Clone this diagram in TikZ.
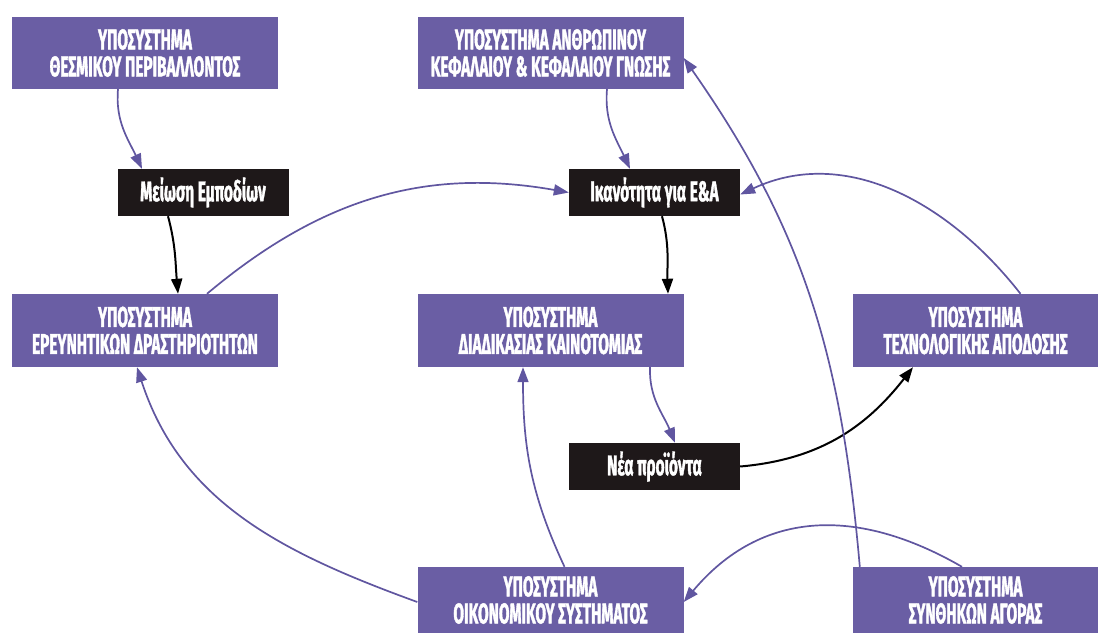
\documentclass[tikz,border=0pt]{standalone}
\usepackage{fontspec}
\setmainfont{Fira Sans}[FakeStretch=0.54, BoldFeatures={FakeBold=1.2}]
\usetikzlibrary{arrows.meta,positioning}

\definecolor{sysviolet}{RGB}{106,94,164}
\definecolor{linkviolet}{RGB}{96,86,160}
\definecolor{factorblack}{RGB}{30,24,25}
\newcommand{\boxfont}{\fontsize{28.5}{27}\selectfont\bfseries}

\begin{document}
\begin{tikzpicture}[x=1pt,y=1pt,
  subsys/.style={fill=sysviolet, text=white, align=center, font=\boxfont,
    minimum width=266pt, minimum height=72pt, inner sep=0pt},
  factor/.style={fill=factorblack, text=white, font=\boxfont,
    minimum width=171pt, minimum height=47pt, inner sep=0pt},
  flow/.style={draw=linkviolet, line width=1.7pt, -{Triangle[length=15pt,width=11pt]}},
  push/.style={flow, draw=black, line width=2pt}]

\useasboundingbox (0,0) rectangle (1107,633);

%% Top row: the two subsystems
\node[subsys] (thesm) at (145,580) {ΥΠΟΣΥΣΤΗΜΑ\\ΘΕΣΜΙΚΟΥ ΠΕΡΙΒΑΛΛΟΝΤΟΣ};
\node[subsys] (anthr) at (550.5,580) {ΥΠΟΣΥΣΤΗΜΑ ΑΝΘΡΩΠΙΝΟΥ\\ΚΕΦΑΛΑΙΟΥ \& ΚΕΦΑΛΑΙΟΥ ΓΝΩΣΗΣ};

%% Black factors under the top row
\node[factor] (meiosi) at (203,440.5) {Μείωση Εμποδίων};
\node[factor] (ikan) at (654.5,440.5) {Ικανότητα για Ε\&Α};

%% Middle row
\node[subsys, minimum height=73pt] (erevn) at (145,302.5) {ΥΠΟΣΥΣΤΗΜΑ\\ΕΡΕΥΝΗΤΙΚΩΝ ΔΡΑΣΤΗΡΙΟΤΗΤΩΝ};
\node[subsys, minimum height=73pt] (diad) at (550.5,302.5) {ΥΠΟΣΥΣΤΗΜΑ\\ΔΙΑΔΙΚΑΣΙΑΣ ΚΑΙΝΟΤΟΜΙΑΣ};
\node[subsys, minimum height=73pt, minimum width=245pt] (techn) at (975.5,302.5) {ΥΠΟΣΥΣΤΗΜΑ\\ΤΕΧΝΟΛΟΓΙΚΗΣ ΑΠΟΔΟΣΗΣ};

%% New products
\node[factor] (nea) at (654.5,166.5) {Νέα προϊόντα};

%% Bottom row, cut by the lower edge
\node[subsys, minimum height=66pt] (oikon) at (550.5,33) {ΥΠΟΣΥΣΤΗΜΑ\\ΟΙΚΟΝΟΜΙΚΟΥ ΣΥΣΤΗΜΑΤΟΣ};
\node[subsys, minimum height=66pt, minimum width=245pt] (synth) at (975.5,33) {ΥΠΟΣΥΣΤΗΜΑ\\ΣΥΝΘΗΚΩΝ ΑΓΟΡΑΣ};

%% Institutional -> barriers -> research
\draw[flow] ([xshift=-27pt]thesm.south) to[out=-95,in=115] ([xshift=-61pt]meiosi.north);
\draw[push] ([xshift=-35pt]meiosi.south) to[out=-75,in=95] ([xshift=33pt]erevn.north);

%% Inputs of the R&D capacity
\draw[flow] ([xshift=62pt]erevn.north) to[out=40,in=170] (ikan.west);
\draw[flow] ([xshift=56.5pt]anthr.south) to[out=-95,in=115] ([xshift=-24.5pt]ikan.north);
\draw[flow] ([xshift=45pt]techn.north) to[out=128,in=25] ([yshift=-2pt]ikan.east);

%% Capacity -> innovation -> new products -> performance
\draw[push] ([xshift=7.5pt]ikan.south) to[out=-75,in=92] ([xshift=117.5pt]diad.north);
\draw[flow] ([xshift=99.5pt]diad.south) to[out=-92,in=112] ([xshift=20.5pt]nea.north);
\draw[push] (nea.east) to[out=5,in=-128] ([xshift=-62.5pt]techn.south);

%% Economic system feedback
\draw[flow] ([yshift=-2pt]oikon.west) to[out=160,in=-72] ([xshift=-8pt]erevn.south);
\draw[flow] ([xshift=14pt]oikon.north) to[out=115,in=-90] ([xshift=-27.5pt]diad.south);

%% Market conditions
\draw[flow] ([xshift=-13.5pt]synth.north) to[out=150,in=50,looseness=1.1] ([yshift=-2pt]oikon.east);
\draw[flow] ([xshift=7pt]synth.north west) to[out=95,in=-55] ([yshift=-5pt]anthr.east);

\end{tikzpicture}
\end{document}
